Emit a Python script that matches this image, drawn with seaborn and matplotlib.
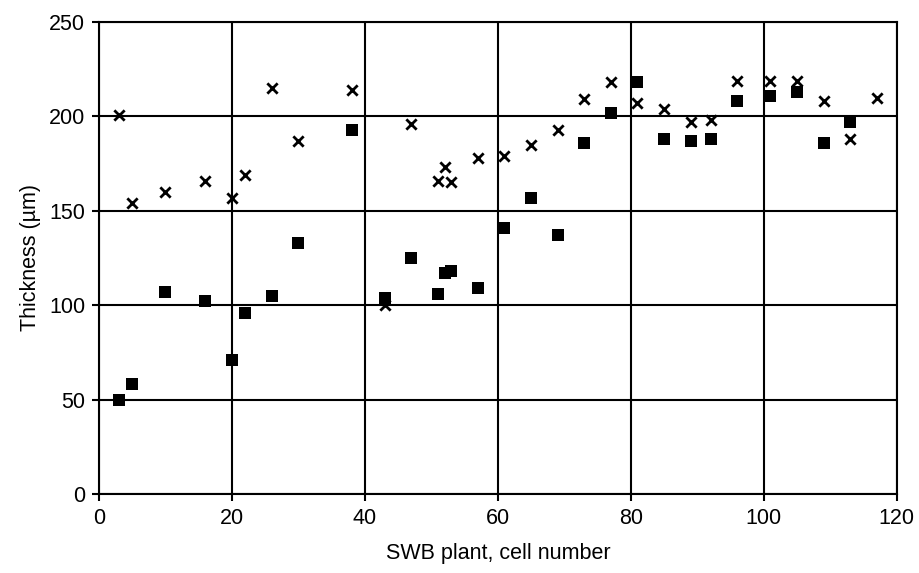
import seaborn as sns
import pandas as pd
import matplotlib.pyplot as plt

# cell numbers and thickness readings (um)
cells_x = [3, 5, 10, 16, 20, 22, 26, 30, 38, 43, 47, 51, 52, 53, 57, 61, 65, 69,
           73, 77, 81, 85, 89, 92, 96, 101, 105, 109, 113, 117]
thick_x = [201, 154, 160, 166, 157, 169, 215, 187, 214, 100, 196, 166, 173, 165, 178, 179, 185, 193,
           209, 218, 207, 204, 197, 198, 219, 219, 219, 208, 188, 210]

cells_sq = [3, 5, 10, 16, 20, 22, 26, 30, 38, 43, 47, 51, 52, 53, 57, 61, 65, 69,
            73, 77, 81, 85, 89, 92, 96, 101, 105, 109, 113]
thick_sq = [50, 58, 107, 102, 71, 96, 105, 133, 193, 104, 125, 106, 117, 118, 109, 141, 157, 137,
            186, 202, 218, 188, 187, 188, 208, 211, 213, 186, 197]

xticks = [0, 20, 40, 60, 80, 100, 120]
yticks = [0, 50, 100, 150, 200, 250]

df_x = pd.DataFrame({"cell": cells_x, "thickness": thick_x})
df_sq = pd.DataFrame({"cell": cells_sq, "thickness": thick_sq})

sns.set_style("white")
plt.rcParams['font.family'] = ['Liberation Sans', 'DejaVu Sans']
plt.rcParams['text.color'] = 'black'
plt.rcParams['axes.labelcolor'] = 'black'
plt.rcParams['xtick.color'] = 'black'
plt.rcParams['ytick.color'] = 'black'

fig = plt.figure(figsize=(9.19, 5.73), dpi=100)
ax = fig.add_axes([0.1077, 0.138, 0.868, 0.8236])

ax.grid(True, color="black", linewidth=1.5)
ax.set_axisbelow(True)

sns.scatterplot(data=df_sq, x="cell", y="thickness", marker="s", s=72,
                color="black", edgecolor="black", linewidth=0, ax=ax, zorder=3)
sns.scatterplot(data=df_x, x="cell", y="thickness", marker="x", s=55,
                color="black", linewidth=2.0, ax=ax, zorder=4)

ax.set_xlim(0, 120)
ax.set_ylim(0, 250)
ax.set_xticks(xticks)
ax.set_yticks(yticks)

for side in ["left", "bottom", "top", "right"]:
    ax.spines[side].set_color("black")
    ax.spines[side].set_linewidth(1.5)

ax.tick_params(axis="both", direction="out", length=5, width=1.5, color="black",
               labelcolor="black", labelsize=15.5, pad=5, left=True, bottom=True)

ax.set_xlabel("SWB plant, cell number", fontsize=15.5, labelpad=10, color="black")
ax.set_ylabel("Thickness (\u00b5m)", fontsize=15.5, labelpad=6, color="black")

fig.savefig("out.png", dpi=100)
